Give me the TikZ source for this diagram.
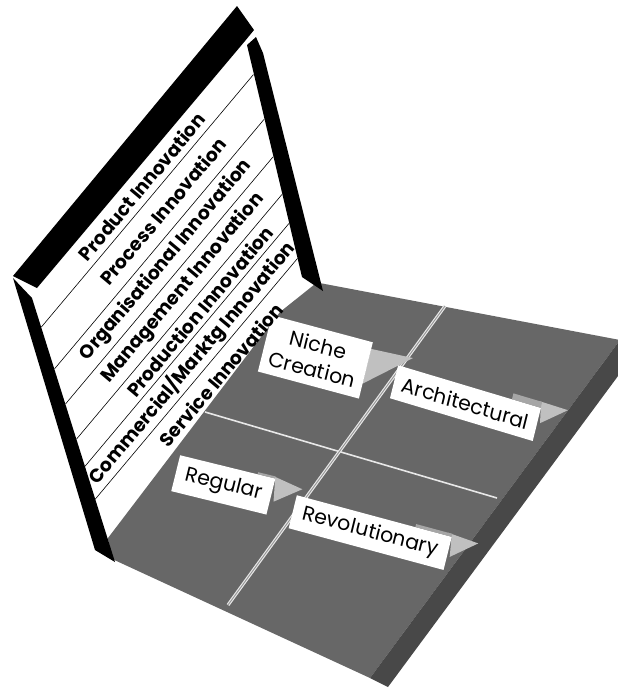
\documentclass[tikz,border=0pt]{standalone}
\usepackage{fontspec}
\setmainfont{Poppins}
\definecolor{floortop}{RGB}{103,103,103}
\definecolor{floorside}{RGB}{72,72,72}
\definecolor{flaglight}{RGB}{192,192,192}
\definecolor{flagdark}{RGB}{166,166,166}
\definecolor{gridline}{RGB}{232,232,232}
\definecolor{gridgap}{RGB}{150,150,150}
\begin{document}
\begin{tikzpicture}[x=1pt,y=-1pt,
  panellabel/.style={font=\bfseries\fontsize{18.8}{19}\selectfont, rotate=50, inner sep=0pt},
  floorbox/.style={fill=white, transform shape, anchor=north west, inner sep=0pt,
                   align=center, font=\fontsize{20.5}{25}\selectfont},
  divider/.style={line width=0.6pt, black},
  barshape/.style={fill=black},
  floorslant/.style={cm={#1,0.24,0.97,(0,0)}},
]
\useasboundingbox (0,0) rectangle (618,689);
\clip (0,0) rectangle (618,689);

% ---- floor slab ----
\fill[floortop] (317,282.5) -- (620,340) -- (370,678) -- (110,558) -- (108,538) -- (280,312) -- cycle;
\fill[floorside] (620,340) -- (638,349) -- (388,687) -- (370,678) -- cycle;

% ---- grid lines on the floor ----
\coordinate (hleft) at (205,412);
\coordinate (hright) at (497,498);
\coordinate (vtop) at (445,306);
\coordinate (vbot) at (228,605);
\draw[gridline, line width=1.6pt] (hleft) -- (hright);
\draw[gridline, line width=3.2pt] (vtop) -- (vbot);
\draw[gridgap, line width=0.9pt] (vtop) -- (vbot);

% ---- quadrant labels lying on the floor ----
% Niche Creation
\begin{scope}[shift={(271.7,315)}, floorslant={0.966,-0.259}]
  \fill[flaglight] (104.5,7) -- (147.5,5) -- (104.5,43) -- cycle;
  \node[floorbox, minimum width=104.5pt, minimum height=58pt] (niche) at (0,0) {Niche\\Creation};
\end{scope}
% Architectural
\begin{scope}[shift={(398,365)}, floorslant={0.958,-0.287}]
  \fill[flaglight] (146,-6) -- (176,-5.5) -- (152,15) -- (149,0) -- cycle;
  \fill[flagdark] (119,-6) -- (149,-6) -- (149,0) -- (119,0) -- cycle;
  \node[floorbox, minimum width=149pt, minimum height=34pt] (arch) at (0,0) {Architectural};
\end{scope}
% Regular
\begin{scope}[shift={(180,455)}, floorslant={0.971,-0.239}]
  \fill[flaglight] (95,-2) -- (127,4) -- (102,23) -- (98,0) -- cycle;
  \fill[flagdark] (80,-2) -- (98,-2) -- (98,0) -- (80,0) -- cycle;
  \node[floorbox, minimum width=98pt, minimum height=37pt] (regular) at (0,0) {Regular};
\end{scope}
% Revolutionary
\begin{scope}[shift={(296.7,495)}, floorslant={0.965,-0.260}]
  \fill[flaglight] (156,-3) -- (188,-0.5) -- (163.5,20) -- (160.5,0) -- cycle;
  \fill[flagdark] (123,-3) -- (160.5,-3) -- (160.5,0) -- (123,0) -- cycle;
  \node[floorbox, minimum width=160.5pt, minimum height=34pt] (revol) at (0,0) {Revolutionary};
\end{scope}

% ---- upright panel ----
% divider lines between the rows
\draw[divider] (41.4,327.0) -- (253.4,74.6);
\draw[divider] (54.5,368.9) -- (264.1,119.3);
\draw[divider] (65.5,404.0) -- (273.1,156.8);
\draw[divider] (76.5,439.1) -- (282.1,194.3);
\draw[divider] (85.0,466.3) -- (289.1,223.3);
\draw[divider] (95.3,499.1) -- (297.5,258.4);

% frame of the panel
\fill[barshape] (13,276) -- (237,6) -- (254,30) -- (245,41) -- (37,288) -- cycle;
\fill[barshape] (13,278) -- (32,298) -- (115,562) -- (95,550) -- cycle;
\fill[barshape] (247,45) -- (256,37) -- (263,53) -- (323,291) -- (302,277) -- cycle;

% row labels
\node[panellabel] (product)    at (141.5,186.5) {Product Innovation};
\node[panellabel] (process)    at (162.9,211.2) {Process Innovation};
\node[panellabel] (organis)    at (166.1,260.2) {Organisational Innovation};
\node[panellabel] (management) at (183.1,288.2) {Management Innovation};
\node[panellabel] (production) at (199.7,311.3) {Production Innovation};
\node[panellabel] (commercial) at (192.0,362.7) {Commercial/Marktg Innovation};
\node[panellabel] (service)    at (220.9,374.7) {Service Innovation};
\end{tikzpicture}
\end{document}
